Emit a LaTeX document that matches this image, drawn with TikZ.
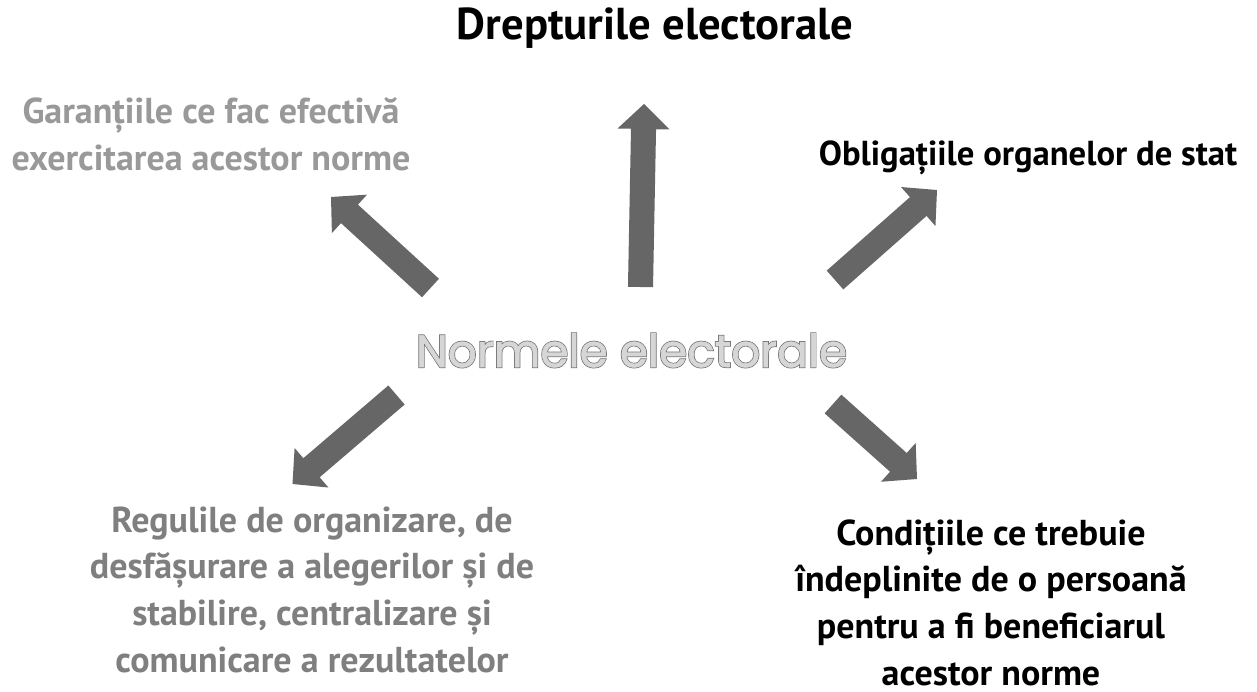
\documentclass[tikz,border=0pt]{standalone}
\usepackage{fontspec}
\setmainfont{PT Sans}
\newfontfamily\geofontin[FakeBold=1.4]{Poppins}
\newfontfamily\geofontout[FakeBold=4.6]{Poppins}
\usetikzlibrary{calc}
\definecolor{arrowgray}{HTML}{666666}
\definecolor{lightlabel}{HTML}{999999}
\definecolor{midlabel}{HTML}{7F7F7F}
\definecolor{outlinegray}{HTML}{707070}
\definecolor{innergray}{HTML}{D6D6D6}
\tikzset{
  lbl/.style={inner sep=0pt, anchor=base, align=center, font=\bfseries\fontsize{27}{35}\selectfont},
  title/.style={inner sep=0pt, anchor=base, align=center, font=\bfseries\fontsize{33.5}{40}\selectfont},
  centertxt/.style={inner sep=0pt, anchor=base},
}
\newcommand\blockarrow[2]{%
  \coordinate (#1-h) at ($(#2)!18.75pt!(#1)$);
  \fill[arrowgray] ($(#1)!9.4pt!90:(#2)$) -- ($(#1-h)!9.4pt!-90:(#1)$) -- ($(#1-h)!19.5pt!-90:(#1)$) -- (#2) -- ($(#1-h)!19.5pt!90:(#1)$) -- ($(#1-h)!9.4pt!90:(#1)$) -- ($(#1)!9.4pt!-90:(#2)$) -- cycle;}
\begin{document}
\begin{tikzpicture}[x=0.75pt,y=-0.75pt]
\fill[white] (0,0) rectangle (1257,692);
\useasboundingbox (0,0) rectangle (1257,692);

% center text, outlined
\node[centertxt, text=outlinegray, font=\geofontout\fontsize{34}{40}\selectfont] (normeo) at (631.5,367) {Normele electorale};
\node[centertxt, text=innergray, font=\geofontin\fontsize{34}{40}\selectfont] (norme) at (631.5,367) {Normele electorale};

% labels (base anchor = last line's baseline)
\node[title] (drept) at (655,40) {Drepturile electorale};
\node[lbl, text=lightlabel] (garant) at (211,170) {Garanțiile ce fac efectivă\\exercitarea acestor norme};
\node[lbl, font=\bfseries\fontsize{26}{35}\selectfont] (oblig) at (1028,165) {Obligațiile organelor de stat};
\node[lbl, text=midlabel] (reguli) at (312,672) {Regulile de organizare, de\\desfășurare a alegerilor și de\\stabilire, centralizare și\\comunicare a rezultatelor};
\node[lbl] (cond) at (991,685) {Condițiile ce trebuie\\îndeplinite de o persoană\\pentru a fi beneficiarul\\acestor norme};

% arrow end points
\coordinate (tU) at (640.5,287);  \coordinate (pU) at (644,104);
\coordinate (tUL) at (430.5,288); \coordinate (pUL) at (331,197);
\coordinate (tUR) at (835,280);   \coordinate (pUR) at (937,190);
\coordinate (tLL) at (396.5,395); \coordinate (pLL) at (292.5,484);
\coordinate (tLR) at (833,404);   \coordinate (pLR) at (917,479);

\blockarrow{tU}{pU}
\blockarrow{tUL}{pUL}
\blockarrow{tUR}{pUR}
\blockarrow{tLL}{pLL}
\blockarrow{tLR}{pLR}
\end{tikzpicture}
\end{document}
